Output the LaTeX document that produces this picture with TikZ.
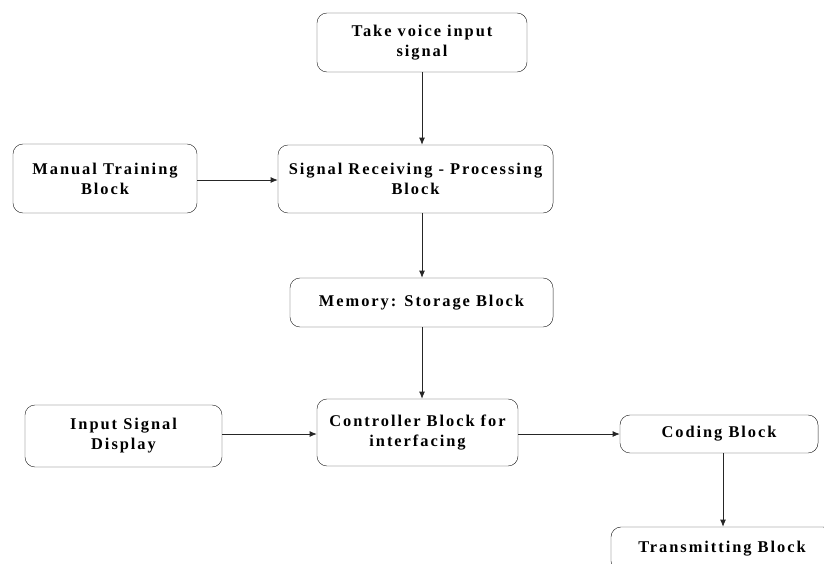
\documentclass[tikz,border=0pt]{standalone}
\usepackage{fontspec}
\setmainfont{Liberation Serif}
\usepackage{tikz}
\usetikzlibrary{arrows.meta}

\begin{document}
\begin{tikzpicture}[x=0.03cm, y=-0.03cm,
        blk/.style={draw=black!85, rounded corners=0.3cm, align=center, inner sep=0pt,
            font=\fontsize{14}{17}\selectfont\bfseries\addfontfeatures{LetterSpace=12}},
        arr/.style={draw=black!85, -{Latex[length=6pt,width=5pt]}, line width=0.7pt}]
            \useasboundingbox (0,0) rectangle (824,563);
            \clip (0,0) rectangle (824,563);
            \node[blk, minimum width=6.3cm, minimum height=1.77cm] (voice) at (422,42.5) {Take voice input\\signal};
            \node[blk, minimum width=5.52cm, minimum height=2.07cm] (manual) at (105,178.5) {Manual Training\\Block};
            \node[blk, minimum width=8.25cm, minimum height=2.04cm] (receive) at (415.5,179) {Signal Receiving - Processing\\Block};
            \node[blk, minimum width=7.89cm, minimum height=1.47cm] (memory) at (421.5,302.5) {Memory: Storage Block};
            \node[blk, minimum width=5.91cm, minimum height=1.86cm] (display) at (123.5,436) {Input Signal\\Display};
            \node[blk, minimum width=6.03cm, minimum height=2.01cm] (control) at (417.5,432.5) {Controller Block for\\interfacing};
            \node[blk, minimum width=5.94cm, minimum height=1.14cm] (coding) at (719,434) {Coding Block};
            \node[blk, minimum width=6.66cm, minimum height=1.32cm] (transmit) at (722,549) {Transmitting Block};

            \draw[arr] (voice.south -| 422,0) -- (receive.north -| 422,0);
            \draw[arr] (receive.south -| 422,0) -- (memory.north -| 422,0);
            \draw[arr] (memory.south -| 422,0) -- (control.north -| 422,0);
            \draw[arr] (manual.east |- 0,180) -- (receive.west |- 0,180);
            \draw[arr] (display.east |- 0,434) -- (control.west |- 0,434);
            \draw[arr] (control.east |- 0,434) -- (coding.west |- 0,434);
            \draw[arr] (coding.south -| 723,0) -- (transmit.north -| 723,0);
        \end{tikzpicture}
\end{document}
